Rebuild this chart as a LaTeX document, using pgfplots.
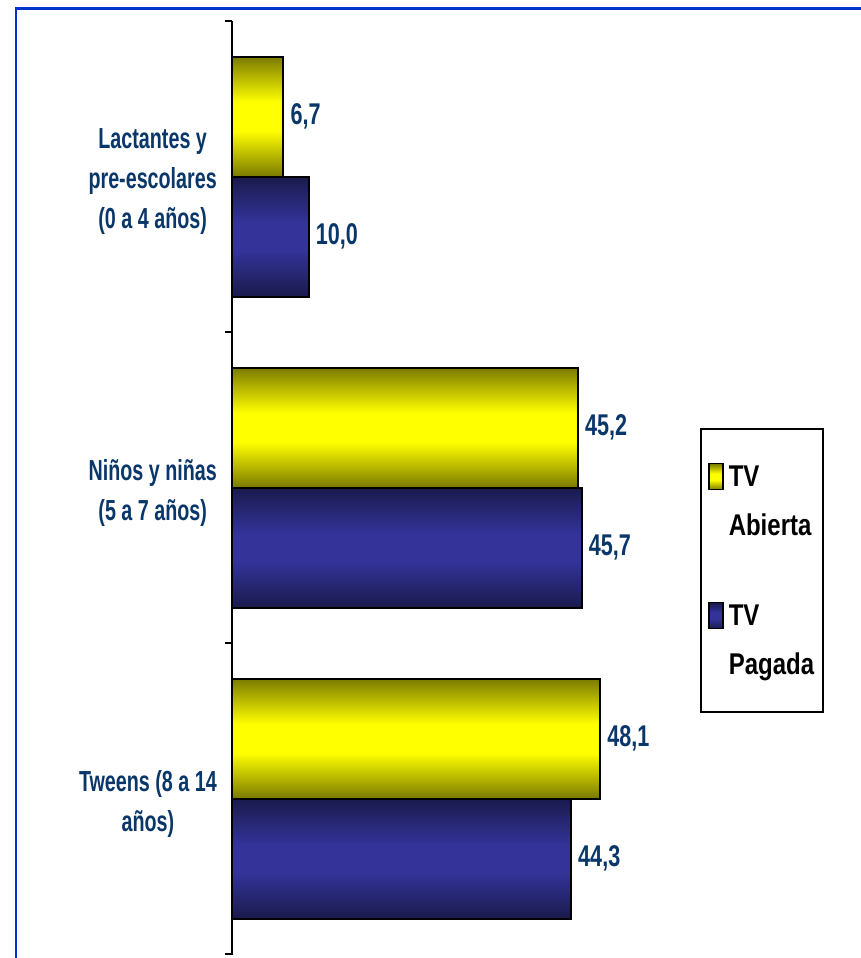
\documentclass[border=0pt]{standalone}
\usepackage{pgfplots}
\pgfplotsset{compat=1.18}
\usepackage{fontspec}
\setmainfont{Liberation Sans}[FakeStretch=0.68, BoldFont={Liberation Sans Bold}, BoldFeatures={FakeStretch=0.68}]
\newfontfamily\legfont{Liberation Sans Bold}[FakeStretch=0.8]
\newfontfamily\valfont{Liberation Sans Bold}[FakeStretch=0.72]
\definecolor{txtblue}{RGB}{10,55,105}
\definecolor{frameblue}{RGB}{0,51,204}
\definecolor{yelmid}{RGB}{255,255,0}
\definecolor{yeldark}{RGB}{122,122,0}
\definecolor{blumid}{RGB}{51,51,153}
\definecolor{bludark}{RGB}{26,26,76}
\pgfdeclareverticalshading{yelshade}{100bp}{color(0bp)=(yeldark); color(25bp)=(yeldark); color(44bp)=(yelmid); color(56bp)=(yelmid); color(75bp)=(yeldark); color(100bp)=(yeldark)}
\pgfdeclareverticalshading{blushade}{100bp}{color(0bp)=(bludark); color(25bp)=(bludark); color(44bp)=(blumid); color(56bp)=(blumid); color(75bp)=(bludark); color(100bp)=(bludark)}
\pgfplotsset{
  yelbar/.style={bar shift=60pt, draw=black, line width=2pt, shade, shading=yelshade},
  blubar/.style={bar shift=-60pt, draw=black, line width=2pt, shade, shading=blushade},
}
\begin{document}
\begin{tikzpicture}[x=1pt,y=1pt]
\path[use as bounding box] (0,0) rectangle (860,958);
\draw[frameblue, line width=2.5pt] (16,-5) -- (16,949.5) -- (870,949.5);
\begin{axis}[
  at={(232pt,4pt)}, anchor=south west,
  scale only axis, width=459pt, height=933pt,
  xmin=0, xmax=60,
  ymin=-0.5, ymax=2.5, y dir=reverse,
  axis x line=none,
  axis y line=left,
  axis line style={-, line width=2pt, black},
  ytick={0,1,2},
  yticklabels={{Lactantes y\\pre-escolares\\(0 a 4 años)},{Niños y niñas\\(5 a 7 años)},{Tweens (8 a 14\\años)}},
  major tick length=0pt,
  minor ytick={-0.5,0.5,1.5,2.5},
  minor tick length=7pt,
  tick align=outside,
  minor tick style={line width=2pt, black},
  yticklabel style={align=center, inner sep=0pt, xshift=-15pt, yshift=-5pt, text=txtblue,
    font=\bfseries\fontsize{29}{40}\selectfont},
  xbar, bar width=120pt,
  nodes near coords,
  /pgf/number format/assume math mode=true,
  /pgf/number format/use comma, /pgf/number format/fixed,
  /pgf/number format/fixed zerofill, /pgf/number format/precision=1,
  every node near coord/.append style={text=txtblue, anchor=west, xshift=3pt,
    font=\valfont\fontsize{30}{40}\selectfont},
  legend style={at={(1.0196,0.5638)}, anchor=north west, draw=black, line width=2pt,
    inner xsep=7pt, inner ysep=34pt, row sep=63pt,
    cells={align=left},
    font=\legfont\fontsize{30}{48}\selectfont, text=black},
  legend cell align=left,
  legend image code/.code={\draw[#1, line width=1.5pt] (0pt,11.5pt) rectangle (14pt,37.5pt); \path (17pt,20pt);},
]
\addplot[yelbar] coordinates {(6.7,0)};
\addlegendentry{TV\\[1pt]Abierta}
\addplot[blubar] coordinates {(10.0,0)};
\addlegendentry{TV\\[1pt]Pagada}
\addplot[yelbar, forget plot] coordinates {(45.2,1)};
\addplot[blubar, forget plot] coordinates {(45.7,1)};
\addplot[yelbar, forget plot] coordinates {(48.1,2)};
\addplot[blubar, forget plot] coordinates {(44.3,2)};
\draw[line width=2pt] (axis cs:0,2.5) -- ++(0,-5pt);
\end{axis}
\end{tikzpicture}
\end{document}
